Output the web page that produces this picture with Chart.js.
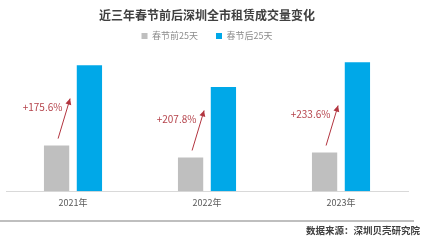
<!DOCTYPE html>
<html>
<head>
<meta charset="utf-8">
<script src="https://cdn.jsdelivr.net/npm/chart.js@4"></script>
<style>
  html, body { margin: 0; padding: 0; background: #fff; }
  #wrap { width: 431px; height: 240px; }
</style>
</head>
<body>
<div id="wrap"><canvas id="rentChart"></canvas></div>
<script>
// data (relative volume)
const years = ["2021年", "2022年", "2023年"];
const before25 = [46, 34, 39];
const after25 = [127, 105, 130];
const growth = ["+175.6%", "+207.8%", "+233.6%"];
const source = "数据来源：深圳贝壳研究院";

const FONT = "'Noto Sans CJK SC', 'Noto Sans', sans-serif";

// arrows + growth labels, placed from the gray bar positions
const growthArrows = {
  id: "growthArrows",
  afterDatasetsDraw(chart) {
    const ctx = chart.ctx;
    const meta = chart.getDatasetMeta(0);
    ctx.save();
    meta.data.forEach((bar, i) => {
      const x0 = bar.x + 1.5, y0 = bar.y - 7;
      const x1 = bar.x + 13.5, y1 = bar.y - 47;
      ctx.strokeStyle = "#b2343f";
      ctx.fillStyle = "#b2343f";
      ctx.lineWidth = 1;
      ctx.beginPath();
      ctx.moveTo(x0, y0);
      ctx.lineTo(x1, y1);
      ctx.stroke();
      // arrow head
      const ang = Math.atan2(y1 - y0, x1 - x0);
      const len = 6, w = 3;
      ctx.beginPath();
      ctx.moveTo(x1, y1);
      ctx.lineTo(x1 - len * Math.cos(ang) + w * Math.sin(ang), y1 - len * Math.sin(ang) - w * Math.cos(ang));
      ctx.lineTo(x1 - len * Math.cos(ang) - w * Math.sin(ang), y1 - len * Math.sin(ang) + w * Math.cos(ang));
      ctx.closePath();
      ctx.fill();
      ctx.fillStyle = "#b5434b";
      ctx.font = "10px " + FONT;
      ctx.textAlign = "center";
      ctx.textBaseline = "middle";
      ctx.fillText(growth[i], bar.x - 14, bar.y - 38);
    });
    ctx.restore();
  }
};

// gray rule + source note at the bottom
const sourceNote = {
  id: "sourceNote",
  afterDraw(chart) {
    const ctx = chart.ctx;
    const h = chart.height;
    ctx.save();
    ctx.strokeStyle = "#bfbfbf";
    ctx.lineWidth = 2;
    ctx.beginPath();
    ctx.moveTo(0, h - 19);
    ctx.lineTo(414, h - 19);
    ctx.stroke();
    ctx.fillStyle = "#404040";
    ctx.font = "bold 9.5px " + FONT;
    ctx.textAlign = "right";
    ctx.textBaseline = "middle";
    ctx.fillText(source, 420, h - 10);
    ctx.restore();
  }
};

new Chart(document.getElementById("rentChart"), {
  type: "bar",
  data: {
    labels: years,
    datasets: [
      {
        label: "春节前25天",
        data: before25,
        backgroundColor: "#bfbfbf",
        borderWidth: 0,
        barPercentage: 0.77,
        categoryPercentage: 0.49,
      },
      {
        label: "春节后25天",
        data: after25,
        backgroundColor: "#00a8e8",
        borderWidth: 0,
        barPercentage: 0.77,
        categoryPercentage: 0.49,
      },
    ],
  },
  options: {
    responsive: true,
    maintainAspectRatio: false,
    animation: false,
    layout: { padding: { left: 6, right: 23, top: 0, bottom: 26 } },
    plugins: {
      title: {
        display: true,
        text: "近三年春节前后深圳全市租赁成交量变化",
        color: "#404040",
        font: { family: FONT, size: 12, weight: "bold" },
        padding: { top: 8, bottom: -9 },
      },
      legend: {
        display: true,
        labels: {
          boxWidth: 6,
          boxHeight: 6,
          color: "#8c8c8c",
          padding: 18,
          font: { family: FONT, size: 9 },
        },
      },
      tooltip: { enabled: false },
    },
    scales: {
      x: {
        grid: { display: false, drawTicks: false },
        border: { color: "#d9d9d9", width: 1 },
        ticks: { color: "#595959", font: { family: FONT, size: 9 }, padding: 6 },
      },
      y: {
        display: false,
        min: 0,
        max: 142,
      },
    },
  },
  plugins: [growthArrows, sourceNote],
});
</script>
</body>
</html>
